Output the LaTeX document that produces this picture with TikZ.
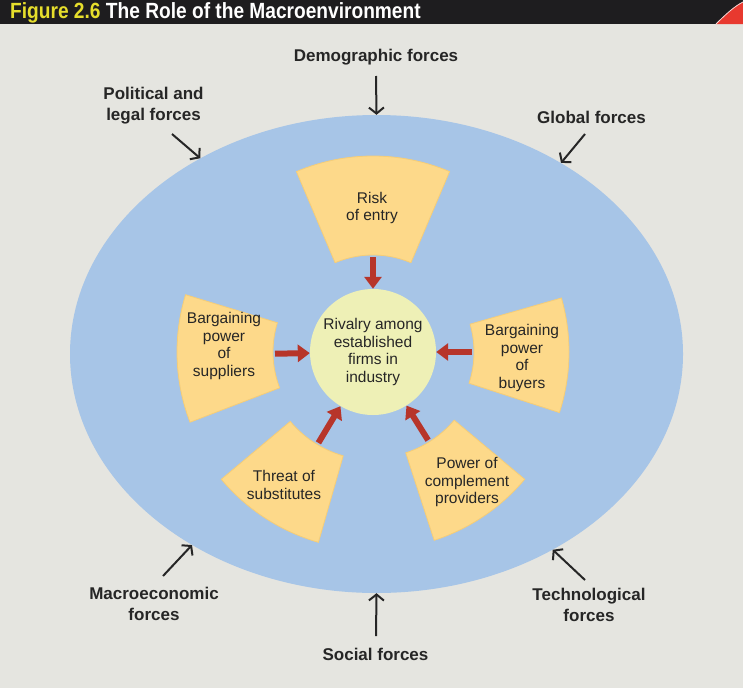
\documentclass[tikz,border=0pt]{standalone}
\usepackage{fontspec}
\setmainfont{Liberation Sans}
\usetikzlibrary{arrows.meta,calc,shapes.geometric}

\definecolor{pagebg}{HTML}{E5E5E0}
\definecolor{titlebar}{HTML}{1E1D1F}
\definecolor{titleyellow}{HTML}{E6DE2C}
\definecolor{cornerred}{HTML}{E8392F}
\definecolor{envblue}{HTML}{A7C5E7}
\definecolor{wedgefill}{HTML}{FDD98A}
\definecolor{wedgeedge}{HTML}{F5CD78}
\definecolor{corefill}{HTML}{EEF0B6}
\definecolor{forcered}{HTML}{B7352A}
\definecolor{inktext}{HTML}{262626}

% one annular sector around the hub: angle, half-angle, inner radius, outer radius
\newcommand\forcewedge[4]{%
  \filldraw[wedgebox] ($(rivalry.center)+(#1-#2:#4)$)
    arc[start angle=#1-#2, end angle=#1+#2, radius=#4]
    -- ($(rivalry.center)+(#1+#2:#3)$)
    arc[start angle=#1+#2, end angle=#1-#2, radius=#3] -- cycle;}

\begin{document}
\begin{tikzpicture}[x=1pt,y=-1pt,
  wedgebox/.style={fill=wedgefill, draw=wedgeedge, line width=0.8pt},
  wedgetext/.style={align=center, text=inktext, inner sep=0pt,
    font=\fontsize{15.5}{17.5}\selectfont},
  outerlabel/.style={align=center, text=inktext, inner sep=0pt,
    font=\fontsize{17}{21}\selectfont\bfseries},
  forcearrow/.style={draw=forcered, line width=6pt,
    -{Triangle[width=17pt,length=12pt]}},
  envarrow/.style={draw=inktext, line width=2pt,
    -{Straight Barb[length=6pt,width=15pt]}}]

\useasboundingbox (0,0) rectangle (743,688);
\fill[pagebg] (0,0) rectangle (743,688);

% title strip
\fill[titlebar] (0,0) rectangle (743,24);
\fill[cornerred] (716,24) .. controls (727,13) and (735,6) .. (743,2) -- (743,24) -- cycle;
\draw[white!80!cornerred, line width=0.8pt] (716,24) .. controls (727,13) and (735,6) .. (743,2);
\node[anchor=base west, inner sep=0pt] (title) at (10,18.5)
  {\scalebox{0.87}[1]{\fontsize{22}{22}\selectfont\bfseries
   \textcolor{titleyellow}{Figure 2.6} \textcolor{white}{The Role of the Macroenvironment}}};

% macroenvironment
\node[ellipse, fill=envblue, minimum width=613pt, minimum height=478pt, inner sep=0pt]
  (env) at (376.5,354) {};

% industry core
\node[circle, fill=corefill, minimum size=126pt, inner sep=0pt] (rivalry) at (373,352) {};
\node[wedgetext] (rivalrytext) at (373,352) {Rivalry among\\established\\firms in\\industry};

% five competitive forces
\forcewedge{-90}{23}{97}{196}
\forcewedge{178}{19}{100}{196}
\forcewedge{1}{17}{101}{196}
\forcewedge{123}{17}{108}{198}
\forcewedge{56}{16}{106}{198}

\node[wedgetext] (entry) at (372,208) {Risk\\of entry};
\node[wedgetext] (suppliers) at (224,346) {Bargaining\\power\\of\\suppliers};
\node[wedgetext] (buyers) at (522,358) {Bargaining\\power\\of\\buyers};
\node[wedgetext] (substitutes) at (284,485) {Threat of\\substitutes};
\node[wedgetext] (complement) at (467,482) {Power of\\complement\\providers};

\coordinate (entryIn) at ($(rivalry.center)+(-90:95)$);
\coordinate (suppliersIn) at ($(rivalry.center)+(179:98)$);
\coordinate (buyersIn) at ($(rivalry.center)+(0:99)$);
\coordinate (substitutesIn) at ($(rivalry.center)+(121:106)$);
\coordinate (complementIn) at ($(rivalry.center)+(58:104)$);

\draw[forcearrow] (entryIn) -- (rivalry);
\draw[forcearrow] (suppliersIn) -- (rivalry);
\draw[forcearrow] (buyersIn) -- (rivalry);
\draw[forcearrow] (substitutesIn) -- (rivalry);
\draw[forcearrow] (complementIn) -- (rivalry);

% macroenvironmental forces
\node[outerlabel] (demographic) at (376,57) {Demographic forces};
\node[outerlabel] (political) at (153.5,106) {Political and\\legal forces};
\node[outerlabel] (global) at (591.5,117) {Global forces};
\node[outerlabel] (macro) at (154,604) {Macroeconomic\\forces};
\node[outerlabel] (techno) at (589,605) {Technological\\forces};
\node[outerlabel] (social) at (375.5,654) {Social forces};

\coordinate (demographicTail) at (376,76);
\coordinate (politicalTail) at (172,134);
\coordinate (globalTail) at (585,134);
\coordinate (macroTail) at (163,576);
\coordinate (technoTail) at (585,580);
\coordinate (socialTail) at (376,636);

\draw[envarrow] (demographicTail) -- (env.north);
\draw[envarrow] (politicalTail) -- (env.132.9);
\draw[envarrow] (globalTail) -- (env.46.8);
\draw[envarrow] (macroTail) -- (env.226.7);
\draw[envarrow] (technoTail) -- (env.312.4);
\draw[envarrow] (socialTail) -- (env.south);
\end{tikzpicture}
\end{document}
